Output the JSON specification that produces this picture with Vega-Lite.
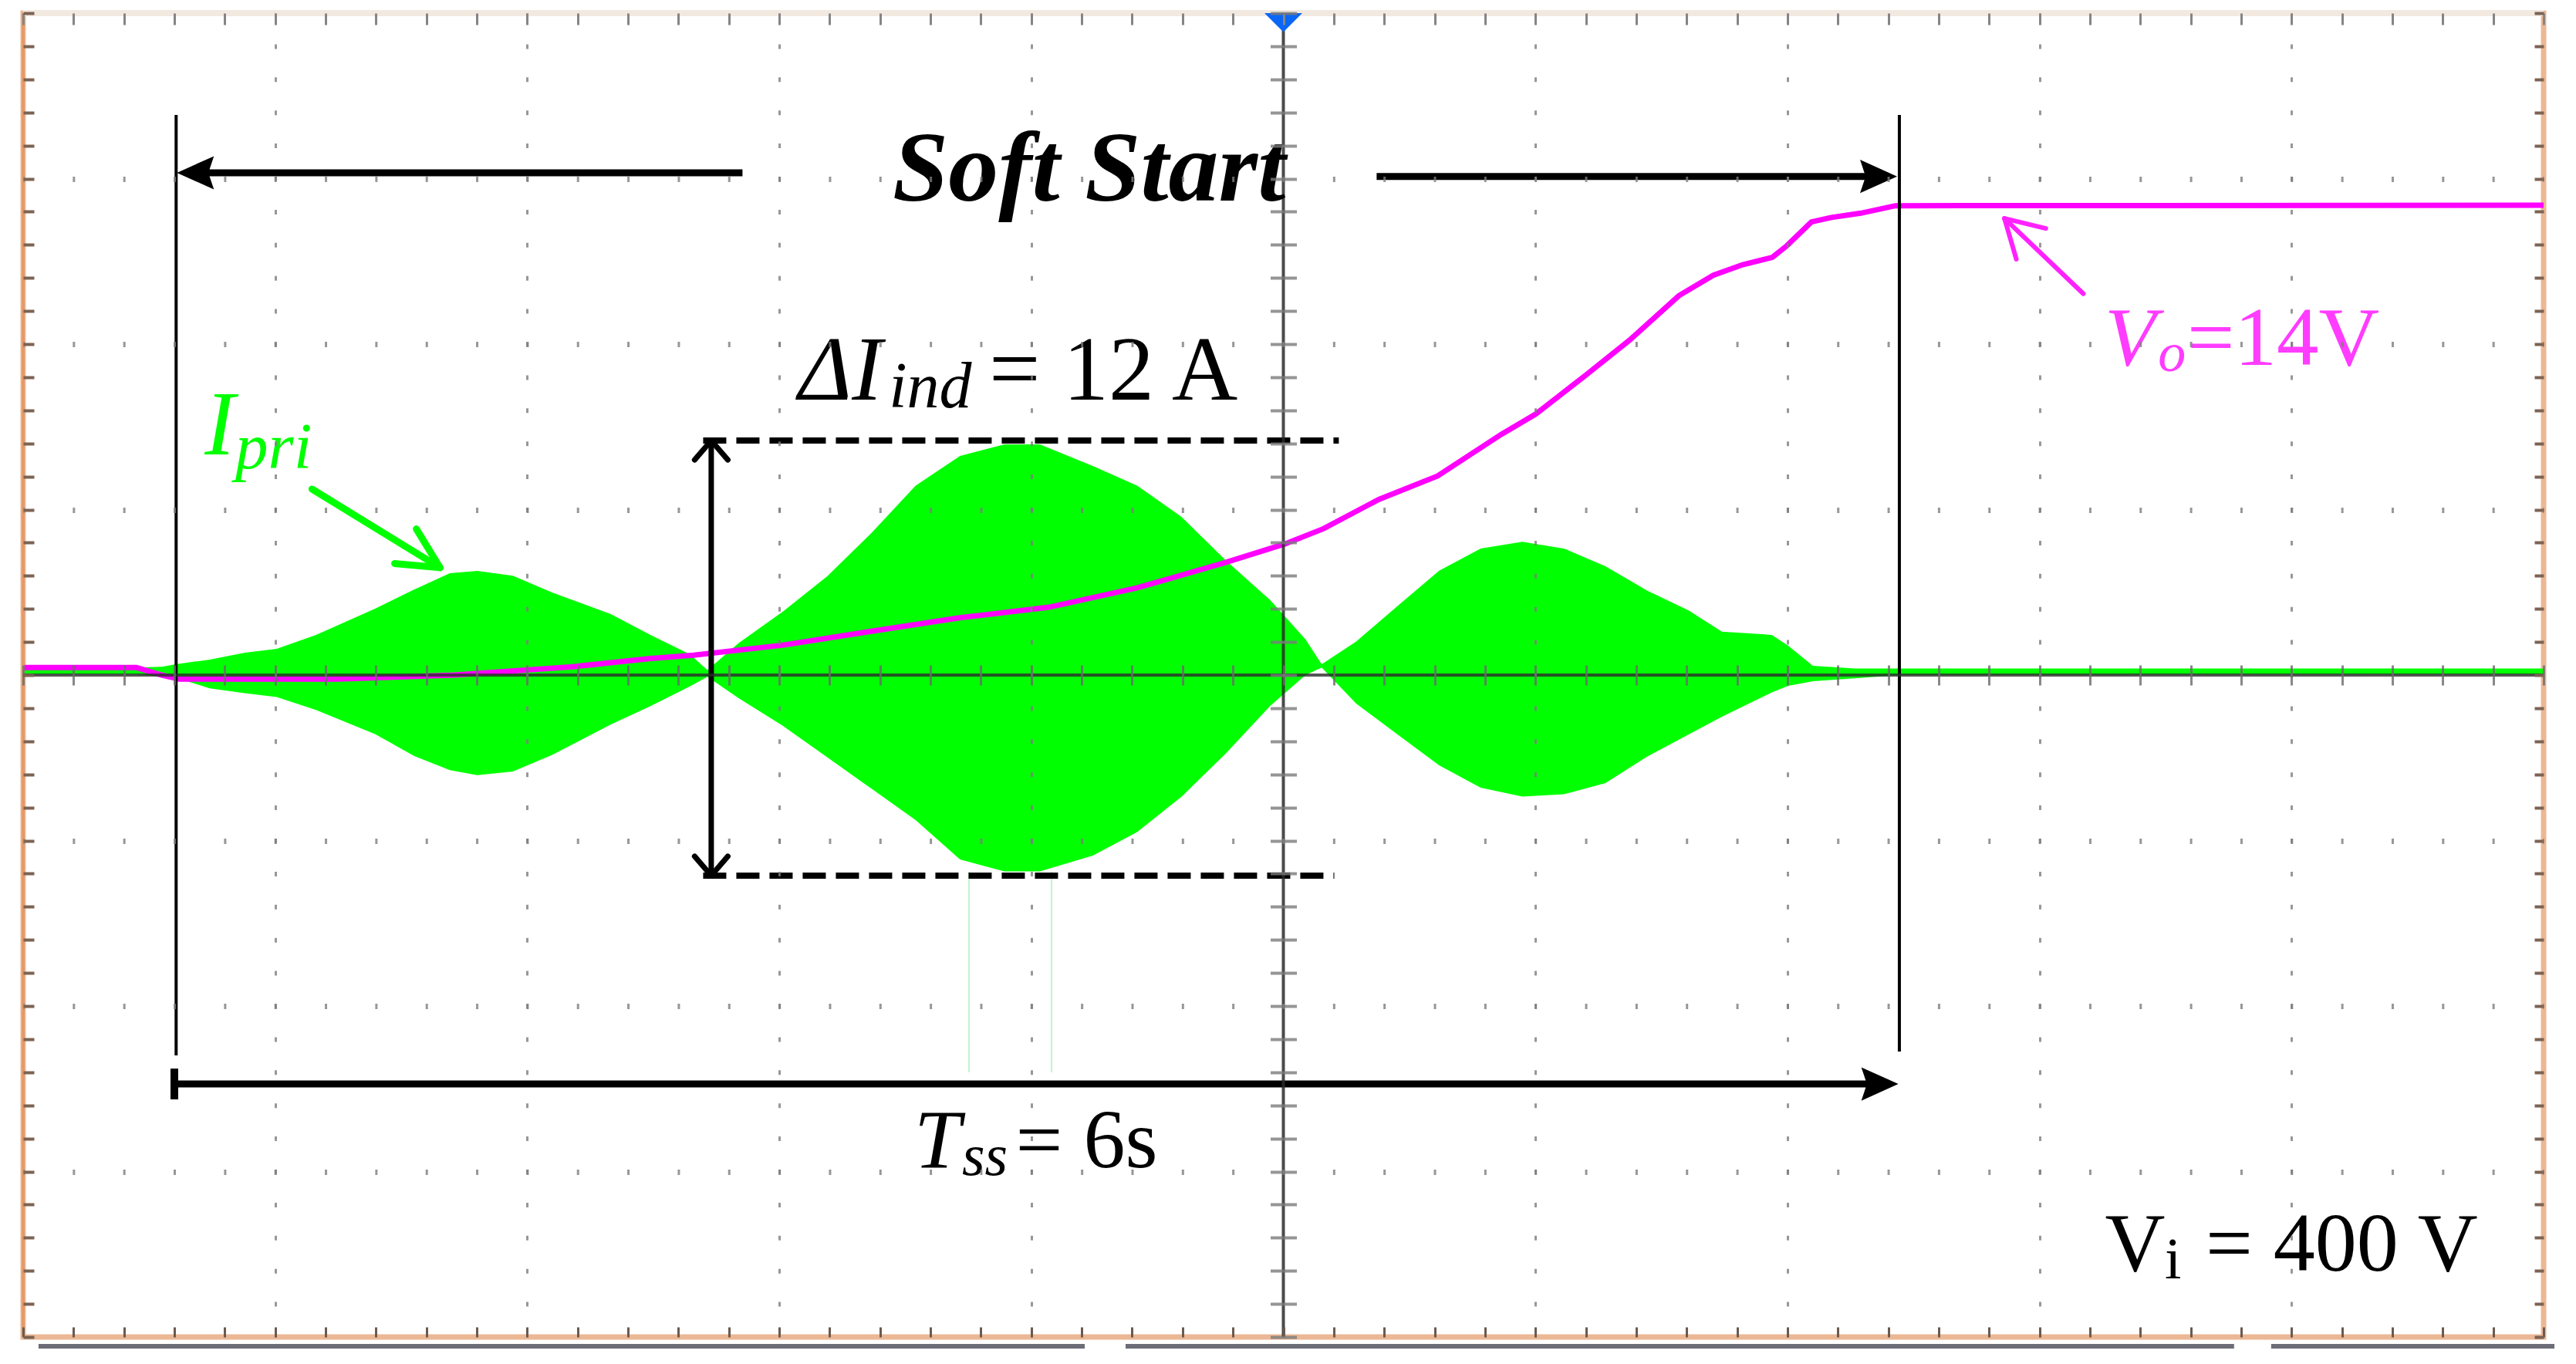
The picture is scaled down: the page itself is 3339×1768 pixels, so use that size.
{
"$schema": "https://vega.github.io/schema/vega-lite/v6.json",
"width": 3267, "height": 1716,
"autosize": {"type": "none"},
"padding": {"left": 30, "top": 17, "right": 42, "bottom": 35},
"background": "white",
"config": {"view": {"stroke": "#ecb795", "strokeWidth": 7}},
"datasets": {
 "env": [
  {"x":-5,"hi":0.045,"lo":0.005},{"x":-4.55,"hi":0.045,"lo":0.005},{"x":-4.45,"hi":0.05,"lo":-0.01},
  {"x":-4.39,"hi":0.067,"lo":-0.017},{"x":-4.26,"hi":0.093,"lo":-0.08},{"x":-4.12,"hi":0.135,"lo":-0.11},
  {"x":-3.994,"hi":0.159,"lo":-0.133},{"x":-3.838,"hi":0.242,"lo":-0.211},{"x":-3.604,"hi":0.401,"lo":-0.357},
  {"x":-3.448,"hi":0.517,"lo":-0.489},{"x":-3.307,"hi":0.615,"lo":-0.575},{"x":-3.198,"hi":0.629,"lo":-0.605},
  {"x":-3.057,"hi":0.6,"lo":-0.583},{"x":-2.901,"hi":0.499,"lo":-0.483},{"x":-2.668,"hi":0.368,"lo":-0.298},
  {"x":-2.511,"hi":0.242,"lo":-0.188},{"x":-2.355,"hi":0.126,"lo":-0.069},{"x":-2.285,"hi":0.03,"lo":-0.01},
  {"x":-2.161,"hi":0.193,"lo":-0.14},{"x":-1.986,"hi":0.383,"lo":-0.307},{"x":-1.81,"hi":0.597,"lo":-0.497},
  {"x":-1.634,"hi":0.859,"lo":-0.687},{"x":-1.459,"hi":1.144,"lo":-0.877},{"x":-1.283,"hi":1.324,"lo":-1.114},
  {"x":-1.107,"hi":1.394,"lo":-1.187},{"x":-0.966,"hi":1.394,"lo":-1.187},{"x":-0.756,"hi":1.263,"lo":-1.091},
  {"x":-0.58,"hi":1.144,"lo":-0.949},{"x":-0.404,"hi":0.956,"lo":-0.735},{"x":-0.228,"hi":0.692,"lo":-0.473},
  {"x":-0.053,"hi":0.454,"lo":-0.188},{"x":0.088,"hi":0.216,"lo":0.0},{"x":0.152,"hi":0.065,"lo":0.045},
  {"x":0.289,"hi":0.203,"lo":-0.172},{"x":0.453,"hi":0.417,"lo":-0.359},{"x":0.618,"hi":0.631,"lo":-0.545},
  {"x":0.783,"hi":0.765,"lo":-0.681},{"x":0.948,"hi":0.805,"lo":-0.734},{"x":1.113,"hi":0.765,"lo":-0.72},
  {"x":1.278,"hi":0.657,"lo":-0.653},{"x":1.443,"hi":0.511,"lo":-0.493},{"x":1.608,"hi":0.39,"lo":-0.359},
  {"x":1.74,"hi":0.262,"lo":-0.252},{"x":1.85,"hi":0.252,"lo":-0.17},{"x":1.938,"hi":0.243,"lo":-0.105},
  {"x":2.003,"hi":0.177,"lo":-0.065},{"x":2.101,"hi":0.056,"lo":-0.037},{"x":2.267,"hi":0.04,"lo":-0.02},
  {"x":2.444,"hi":0.04,"lo":0.0},{"x":5,"hi":0.04,"lo":0.005}
 ],
 "vo": [
  {"x":-5,"y":0.045},{"x":-4.55,"y":0.045},{"x":-4.45,"y":0.0},{"x":-4.38,"y":-0.025},{"x":-3.76,"y":-0.025},
  {"x":-3.29,"y":0.0},{"x":-3.06,"y":0.025},{"x":-2.82,"y":0.05},{"x":-2.67,"y":0.075},{"x":-2.51,"y":0.1},
  {"x":-2.34,"y":0.12},{"x":-1.99,"y":0.18},{"x":-1.63,"y":0.266},{"x":-1.28,"y":0.347},{"x":-0.93,"y":0.41},
  {"x":-0.58,"y":0.527},{"x":-0.23,"y":0.68},{"x":0.007,"y":0.793},{"x":0.16,"y":0.885},{"x":0.378,"y":1.061},
  {"x":0.612,"y":1.203},{"x":0.865,"y":1.455},{"x":1.002,"y":1.578},{"x":1.198,"y":1.81},{"x":1.373,"y":2.023},
  {"x":1.569,"y":2.292},{"x":1.706,"y":2.416},{"x":1.823,"y":2.48},{"x":1.94,"y":2.524},{"x":1.998,"y":2.595},
  {"x":2.095,"y":2.738},{"x":2.174,"y":2.765},{"x":2.291,"y":2.791},{"x":2.428,"y":2.836},{"x":5,"y":2.839}
 ]
},
"encoding": {
 "x": {"field": "x", "type": "quantitative", "scale": {"domain": [-5, 5], "nice": false, "zero": false}, "axis": null},
 "y": {"field": "y", "type": "quantitative", "scale": {"domain": [-4, 4], "nice": false, "zero": false}, "axis": null}
},
"resolve": {"axis": {"x": "independent", "y": "independent"}},
"layer": [
 {"data": {"values": [{"x":-1.247,"y":-1.19,"x2":-1.247,"y2":-2.4},{"x":-0.92,"y":-1.19,"x2":-0.92,"y2":-2.4}]},
  "mark": {"type": "rule", "color": "#bdf5cb", "strokeWidth": 2},
  "encoding": {"x2": {"field": "x2"}, "y2": {"field": "y2"}}},
 {"data": {"name": "env"},
  "mark": {"type": "area", "color": "#00ff00", "opacity": 1},
  "encoding": {
   "x": {"field": "x", "type": "quantitative", "scale": {"domain": [-5, 5], "nice": false, "zero": false},
    "axis": {"orient": "bottom", "values": [-4,-3,-2,-1,1,2,3,4], "grid": true, "gridColor": "#7d7d7d", "gridWidth": 3, "gridDash": [6, 36.9], "gridDashOffset": 3, "gridOpacity": 0.8, "ticks": false, "labels": false, "domain": false, "title": null, "zindex": 1}},
   "y": {"field": "hi", "type": "quantitative", "scale": {"domain": [-4, 4], "nice": false, "zero": false},
    "axis": {"orient": "left", "values": [-3,-2,-1,1,2,3], "grid": true, "gridColor": "#7d7d7d", "gridWidth": 7, "gridDash": [3, 62.34], "gridDashOffset": 1.5, "gridOpacity": 0.8, "ticks": false, "labels": false, "domain": false, "title": null, "zindex": 1}},
   "y2": {"field": "lo"}}},
 {"data": {"name": "vo"},
  "mark": {"type": "line", "color": "#ff00ff", "strokeWidth": 7},
  "encoding": {
   "x": {"field": "x", "type": "quantitative", "scale": {"domain": [-5, 5], "nice": false, "zero": false},
    "axis": {"orient": "bottom", "offset": -13, "tickSize": 13, "tickWidth": 3, "tickColor": "#6b5a4e", "values": [-5,-4.8,-4.6,-4.4,-4.2,-4,-3.8,-3.6,-3.4,-3.2,-3,-2.8,-2.6,-2.4,-2.2,-2,-1.8,-1.6,-1.4,-1.2,-1,-0.8,-0.6,-0.4,-0.2,0,0.2,0.4,0.6,0.8,1,1.2,1.4,1.6,1.8,2,2.2,2.4,2.6,2.8,3,3.2,3.4,3.6,3.8,4,4.2,4.4,4.6,4.8,5], "grid": false, "labels": false, "domain": false, "title": null, "zindex": 1}},
   "y": {"field": "y", "type": "quantitative", "scale": {"domain": [-4, 4], "nice": false, "zero": false},
    "axis": {"orient": "left", "offset": -14, "tickSize": 14, "tickWidth": 4, "tickColor": "#7d6353", "values": [-4,-3.8,-3.6,-3.4,-3.2,-3,-2.8,-2.6,-2.4,-2.2,-2,-1.8,-1.6,-1.4,-1.2,-1,-0.8,-0.6,-0.4,-0.2,0,0.2,0.4,0.6,0.8,1,1.2,1.4,1.6,1.8,2,2.2,2.4,2.6,2.8,3,3.2,3.4,3.6,3.8,4], "grid": false, "labels": false, "domain": false, "title": null, "zindex": 1}}}},
 {"data": {"values": [{"x":-5,"y":4,"x2":5}]},
  "mark": {"type": "rule", "color": "#f2e9e1", "strokeWidth": 8},
  "encoding": {"x2": {"field": "x2"}}},
 {"data": {"values": [{"x":-5,"y":-4,"y2":4}]},
  "mark": {"type": "rule", "color": "#e39b69", "strokeWidth": 4},
  "encoding": {"y2": {"field": "y2"}}},
 {"data": {"values": [{"x":-4.393,"y":3.385,"x2":-4.393,"y2":-2.298},{"x":2.444,"y":3.385,"x2":2.444,"y2":-2.275}]},
  "mark": {"type": "rule", "color": "#000000", "strokeWidth": 4},
  "encoding": {"x2": {"field": "x2"}, "y2": {"field": "y2"}}},
 {"data": {"values": [{"x":-2.146,"y":3.035,"x2":-4.33,"y2":3.035},{"x":0.37,"y":3.013,"x2":2.38,"y2":3.013},{"x":-4.4,"y":-2.471,"x2":2.38,"y2":-2.471}]},
  "mark": {"type": "rule", "color": "#000000", "strokeWidth": 9},
  "encoding": {
   "x": {"field": "x", "type": "quantitative", "scale": {"domain": [-5, 5], "nice": false, "zero": false},
    "axis": {"orient": "top", "offset": -15, "tickSize": 15, "tickWidth": 3, "tickColor": "#858585", "values": [-5,-4.8,-4.6,-4.4,-4.2,-4,-3.8,-3.6,-3.4,-3.2,-3,-2.8,-2.6,-2.4,-2.2,-2,-1.8,-1.6,-1.4,-1.2,-1,-0.8,-0.6,-0.4,-0.2,0,0.2,0.4,0.6,0.8,1,1.2,1.4,1.6,1.8,2,2.2,2.4,2.6,2.8,3,3.2,3.4,3.6,3.8,4,4.2,4.4,4.6,4.8,5], "grid": false, "labels": false, "domain": false, "title": null, "zindex": 1}},
   "y": {"field": "y", "type": "quantitative", "scale": {"domain": [-4, 4], "nice": false, "zero": false},
    "axis": {"orient": "right", "offset": -12, "tickSize": 12, "tickWidth": 4, "tickColor": "#7d6353", "values": [-4,-3.8,-3.6,-3.4,-3.2,-3,-2.8,-2.6,-2.4,-2.2,-2,-1.8,-1.6,-1.4,-1.2,-1,-0.8,-0.6,-0.4,-0.2,0,0.2,0.4,0.6,0.8,1,1.2,1.4,1.6,1.8,2,2.2,2.4,2.6,2.8,3,3.2,3.4,3.6,3.8,4], "grid": false, "labels": false, "domain": false, "title": null, "zindex": 1}},
   "x2": {"field": "x2"}, "y2": {"field": "y2"}}},
 {"data": {"values": [{"x":-4.39,"y":3.035,"dir":"left"},{"x":2.435,"y":3.013,"dir":"right"},{"x":2.44,"y":-2.471,"dir":"right"}]},
  "mark": {"type": "point", "filled": true, "color": "#000000", "opacity": 1, "size": 2304},
  "encoding": {"shape": {"field": "dir", "type": "nominal", "legend": null, "scale": {"domain": ["left", "right"], "range": ["M0,0L2,-0.9L1.7,0L2,0.9Z", "M0,0L-2,-0.9L-1.7,0L-2,0.9Z"]}}}},
 {"data": {"values": [
   {"x":-2.27,"y":1.41,"x2":-2.27,"y2":-1.205},
   {"x":-2.27,"y":1.417,"x2":-2.336,"y2":1.30},{"x":-2.27,"y":1.417,"x2":-2.204,"y2":1.30},
   {"x":-2.27,"y":-1.212,"x2":-2.336,"y2":-1.095},{"x":-2.27,"y":-1.212,"x2":-2.204,"y2":-1.095}]},
  "mark": {"type": "rule", "color": "#000000", "strokeWidth": 7, "strokeCap": "round"},
  "encoding": {"x2": {"field": "x2"}, "y2": {"field": "y2"}}},
 {"data": {"values": [{"x":-2.302,"y":1.417,"x2":0.22,"y2":1.417},{"x":-2.302,"y":-1.212,"x2":0.202,"y2":-1.212}]},
  "mark": {"type": "rule", "color": "#000000", "strokeWidth": 8, "strokeDash": [30, 13]},
  "encoding": {"x2": {"field": "x2"}, "y2": {"field": "y2"}}},
 {"data": {"values": [{"x":-4.4,"y":-2.378,"x2":-4.4,"y2":-2.564}]},
  "mark": {"type": "rule", "color": "#000000", "strokeWidth": 10},
  "encoding": {"x2": {"field": "x2"}, "y2": {"field": "y2"}}},
 {"data": {"values": [{"x":-3.854,"y":1.124,"x2":-3.346,"y2":0.649},{"x":-3.346,"y":0.649,"x2":-3.44,"y2":0.883},{"x":-3.346,"y":0.649,"x2":-3.526,"y2":0.674}]},
  "mark": {"type": "rule", "color": "#00ff00", "strokeWidth": 9, "strokeCap": "round"},
  "encoding": {"x2": {"field": "x2"}, "y2": {"field": "y2"}}},
 {"data": {"values": [{"x":3.174,"y":2.304,"x2":2.861,"y2":2.759},{"x":2.861,"y":2.759,"x2":3.025,"y2":2.699},{"x":2.861,"y":2.759,"x2":2.908,"y2":2.513}]},
  "mark": {"type": "rule", "color": "#ff22ff", "strokeWidth": 6, "strokeCap": "round"},
  "encoding": {"x2": {"field": "x2"}, "y2": {"field": "y2"}}},
 {"data": {"values": [{"x":0,"y":-4,"y2":4}]},
  "mark": {"type": "rule", "color": "#2a2a2a", "strokeWidth": 4, "opacity": 0.85},
  "encoding": {
   "x": {"field": "x", "type": "quantitative", "scale": {"domain": [-5, 5], "nice": false, "zero": false},
    "axis": {"orient": "bottom", "offset": -871, "tickSize": 26, "tickWidth": 3, "tickColor": "#6a6a6a", "tickOpacity": 0.8, "values": [-5,-4.8,-4.6,-4.4,-4.2,-4,-3.8,-3.6,-3.4,-3.2,-3,-2.8,-2.6,-2.4,-2.2,-2,-1.8,-1.6,-1.4,-1.2,-1,-0.8,-0.6,-0.4,-0.2,0,0.2,0.4,0.6,0.8,1,1.2,1.4,1.6,1.8,2,2.2,2.4,2.6,2.8,3,3.2,3.4,3.6,3.8,4,4.2,4.4,4.6,4.8,5], "grid": false, "labels": false, "domain": false, "title": null, "zindex": 1}},
   "y2": {"field": "y2"}}},
 {"data": {"values": [{"x":-5,"x2":5,"y":0}]},
  "mark": {"type": "rule", "color": "#2a2a2a", "strokeWidth": 4, "opacity": 0.8},
  "encoding": {
   "y": {"field": "y", "type": "quantitative", "scale": {"domain": [-4, 4], "nice": false, "zero": false},
    "axis": {"orient": "left", "offset": -1650.5, "tickSize": 34, "tickWidth": 4, "tickColor": "#7a7a7a", "tickOpacity": 0.8, "values": [-4,-3.8,-3.6,-3.4,-3.2,-3,-2.8,-2.6,-2.4,-2.2,-2,-1.8,-1.6,-1.4,-1.2,-1,-0.8,-0.6,-0.4,-0.2,0,0.2,0.4,0.6,0.8,1,1.2,1.4,1.6,1.8,2,2.2,2.4,2.6,2.8,3,3.2,3.4,3.6,3.8,4], "grid": false, "labels": false, "domain": false, "title": null, "zindex": 1}},
   "x2": {"field": "x2"}}},
 {"data": {"values": [{"x":0,"y":3.943}]},
  "mark": {"type": "point", "filled": true, "color": "#0a66f5", "opacity": 1, "size": 2401, "shape": "M-1,-0.5L1,-0.5L0,0.5Z"}},
 {"data": {"values": [{"x":-4.939,"y":-4.056,"x2":-0.788},{"x":-0.626,"y":-4.056,"x2":3.772},{"x":3.919,"y":-4.056,"x2":5.043}]},
  "mark": {"type": "rule", "color": "#6d6d78", "strokeWidth": 6},
  "encoding": {"x2": {"field": "x2"}}},
 {"data": {"values": [{"x":-0.771,"y":2.867,"t":"Soft Start"}]},
  "mark": {"type": "text", "font": "Liberation Serif", "fontSize": 130, "fontStyle": "italic", "fontWeight": "bold", "color": "#000000", "align": "center", "baseline": "alphabetic"},
  "encoding": {"text": {"field": "t"}}},
 {"data": {"values": [{"x":-1.924,"y":1.664,"t":"ΔI"}]},
  "mark": {"type": "text", "font": "Liberation Serif", "fontSize": 118, "fontStyle": "italic", "color": "#000000", "align": "left", "baseline": "alphabetic"},
  "encoding": {"text": {"field": "t"}}},
 {"data": {"values": [{"x":-1.565,"y":1.62,"t":"ind"}]},
  "mark": {"type": "text", "font": "Liberation Serif", "fontSize": 84, "fontStyle": "italic", "color": "#000000", "align": "left", "baseline": "alphabetic"},
  "encoding": {"text": {"field": "t"}}},
 {"data": {"values": [{"x":-1.168,"y":1.664,"t":"= 12 A"}]},
  "mark": {"type": "text", "font": "Liberation Serif", "fontSize": 118, "color": "#000000", "align": "left", "baseline": "alphabetic"},
  "encoding": {"text": {"field": "t"}}},
 {"data": {"values": [{"x":-1.465,"y":-2.974,"t":"T"}]},
  "mark": {"type": "text", "font": "Liberation Serif", "fontSize": 108, "fontStyle": "italic", "color": "#000000", "align": "left", "baseline": "alphabetic"},
  "encoding": {"text": {"field": "t"}}},
 {"data": {"values": [{"x":-1.275,"y":-3.02,"t":"ss"}]},
  "mark": {"type": "text", "font": "Liberation Serif", "fontSize": 76, "fontStyle": "italic", "color": "#000000", "align": "left", "baseline": "alphabetic"},
  "encoding": {"text": {"field": "t"}}},
 {"data": {"values": [{"x":-1.062,"y":-2.974,"t":"= 6s"},{"x":3.26,"y":-3.598,"t":"V"},{"x":3.659,"y":-3.598,"t":"= 400 V"}]},
  "mark": {"type": "text", "font": "Liberation Serif", "fontSize": 108, "color": "#000000", "align": "left", "baseline": "alphabetic"},
  "encoding": {"text": {"field": "t"}}},
 {"data": {"values": [{"x":3.497,"y":-3.646,"t":"i"}]},
  "mark": {"type": "text", "font": "Liberation Serif", "fontSize": 77, "color": "#000000", "align": "left", "baseline": "alphabetic"},
  "encoding": {"text": {"field": "t"}}},
 {"data": {"values": [{"x":-4.28,"y":1.333,"t":"I"}]},
  "mark": {"type": "text", "font": "Liberation Serif", "fontSize": 118, "fontStyle": "italic", "color": "#00ff00", "align": "left", "baseline": "alphabetic"},
  "encoding": {"text": {"field": "t"}}},
 {"data": {"values": [{"x":-4.158,"y":1.249,"t":"pri"}]},
  "mark": {"type": "text", "font": "Liberation Serif", "fontSize": 85, "fontStyle": "italic", "color": "#00ff00", "align": "left", "baseline": "alphabetic"},
  "encoding": {"text": {"field": "t"}}},
 {"data": {"values": [{"x":3.258,"y":1.874,"t":"V"}]},
  "mark": {"type": "text", "font": "Liberation Serif", "fontSize": 109, "fontStyle": "italic", "color": "#ff3cff", "align": "left", "baseline": "alphabetic"},
  "encoding": {"text": {"field": "t"}}},
 {"data": {"values": [{"x":3.47,"y":1.837,"t":"o"}]},
  "mark": {"type": "text", "font": "Liberation Serif", "fontSize": 72, "fontStyle": "italic", "color": "#ff3cff", "align": "left", "baseline": "alphabetic"},
  "encoding": {"text": {"field": "t"}}},
 {"data": {"values": [{"x":3.586,"y":1.874,"t":"=14V"}]},
  "mark": {"type": "text", "font": "Liberation Serif", "fontSize": 109, "color": "#ff3cff", "align": "left", "baseline": "alphabetic"},
  "encoding": {"text": {"field": "t"}}}
]
}
